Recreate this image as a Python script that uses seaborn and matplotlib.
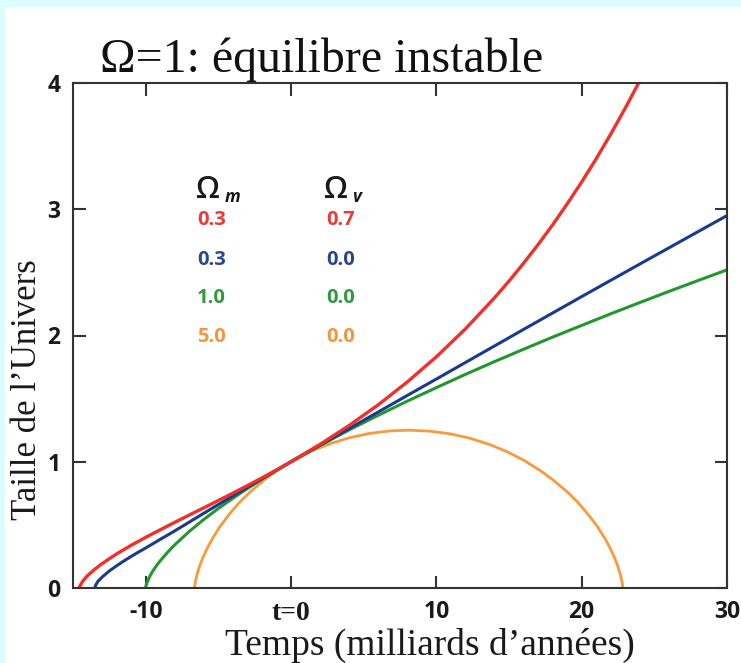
import matplotlib
matplotlib.use("Agg")
import matplotlib.pyplot as plt
from matplotlib.patches import Rectangle
import pandas as pd
import seaborn as sns

# Scale factor of the Universe versus time (billions of years, 0 = today)
red_t = [-14.56, -14.54, -14.5, -14.3, -14.0, -13.5, -13.0, -12.0, -11.0, -10.0,
         -9.0, -8.0, -7.0, -6.0, -5.0, -4.0, -3.0, -2.0, -1.0, 0.0,
         2.0, 4.0, 6.0, 8.0, 10.0, 12.0, 14.0, 15.0, 16.0, 17.0,
         18.0, 19.0, 20.0, 21.0, 22.0, 23.0, 24.0]
red_a = [0.0, 0.011, 0.022, 0.058, 0.098, 0.149, 0.193, 0.270, 0.338, 0.401,
         0.461, 0.520, 0.578, 0.635, 0.693, 0.751, 0.811, 0.872, 0.935, 1.0,
         1.138, 1.287, 1.451, 1.632, 1.831, 2.052, 2.298, 2.431, 2.572, 2.720,
         2.876, 3.042, 3.216, 3.400, 3.595, 3.801, 4.018]

blue_t = [-13.5, -13.45, -13.3, -13.0, -12.5, -12.0, -11.5, -11.0, -10.5, -10.0,
          -9.0, -8.0, -7.0, -6.0, -5.0, -4.0, -3.0, -2.0, -1.0, 0.0,
          2.0, 4.0, 6.0, 8.0, 10.0, 12.0, 14.0, 16.0, 18.0, 20.0,
          22.0, 24.0, 26.0, 28.0, 30.0]
blue_a = [0.0, 0.020, 0.050, 0.086, 0.135, 0.176, 0.214, 0.250, 0.284, 0.317,
          0.385, 0.452, 0.522, 0.592, 0.661, 0.729, 0.797, 0.865, 0.933, 1.0,
          1.132, 1.263, 1.394, 1.525, 1.655, 1.786, 1.917, 2.048, 2.178, 2.308,
          2.437, 2.566, 2.694, 2.822, 2.950]

green_t = [-10.0, -9.98, -9.9, -9.7, -9.5, -9.25, -9.0, -8.5, -8.0, -7.0,
           -6.0, -5.0, -4.0, -3.0, -2.0, -1.0, 0.0, 1.0, 2.0, 3.0,
           4.0, 6.0, 8.0, 10.0, 12.0, 14.0, 16.0, 18.0, 20.0, 22.0,
           24.0, 26.0, 28.0, 30.0]
green_a = [0.0, 0.016, 0.046, 0.097, 0.136, 0.178, 0.215, 0.282, 0.342, 0.448,
           0.543, 0.630, 0.711, 0.788, 0.862, 0.932, 1.0, 1.066, 1.129, 1.191,
           1.252, 1.368, 1.480, 1.587, 1.692, 1.793, 1.891, 1.987, 2.080, 2.172,
           2.261, 2.349, 2.435, 2.520]

orange_t = [-6.63, -6.627, -6.61, -6.56, -6.46, -6.31, -6.08, -5.77, -5.37, -4.88,
            -4.27, -3.57, -2.76, -1.84, -0.83, 0.0, 1.45, 2.71, 4.02, 5.38,
            6.77, 8.10, 9.58, 10.96, 12.32, 13.63, 14.88, 16.05, 17.14, 18.03,
            19.05, 19.76, 20.54, 21.07, 21.62, 21.96, 22.31, 22.50, 22.67, 22.75,
            22.81, 22.82]
orange_a = [0.0, 0.007, 0.028, 0.062, 0.109, 0.168, 0.237, 0.314, 0.399, 0.488,
            0.581, 0.675, 0.767, 0.856, 0.941, 1.0, 1.086, 1.144, 1.190, 1.224,
            1.244, 1.250, 1.242, 1.221, 1.186, 1.138, 1.079, 1.010, 0.931, 0.856,
            0.757, 0.675, 0.570, 0.488, 0.389, 0.314, 0.228, 0.168, 0.103, 0.062,
            0.025, 0.0]

omega_m = ["0.3", "0.3", "1.0", "5.0"]
omega_v = ["0.7", "0.0", "0.0", "0.0"]
models = ["rouge", "bleu", "vert", "orange"]
line_colors = {"rouge": "#f0302a", "bleu": "#1b3a8f", "vert": "#24962e", "orange": "#f99a3c"}
text_colors = ["#ea3a33", "#2a4690", "#33993c", "#f49540"]
line_widths = {"rouge": 2.4, "bleu": 2.2, "vert": 2.2, "orange": 2.0}

x_ticks = [-10, 0, 10, 20, 30]
x_tick_labels = ["-10", "t=0", "10", "20", "30"]
y_ticks = [0, 1, 2, 3, 4]

W, H = 741, 663


def fig_xy(px, py):
    return px / W, 1 - py / H


sns.set_theme(style="ticks")
plt.rcParams["font.family"] = ["Open Sans", "DejaVu Sans"]

fig = plt.figure(figsize=(W / 100, H / 100), dpi=100, facecolor="white")
fig.patches.append(Rectangle((0, 1 - 7 / H), 1, 7 / H, transform=fig.transFigure,
                             facecolor="#dcfbfd", edgecolor="none", zorder=0))
fig.patches.append(Rectangle((0, 0), 5 / W, 1, transform=fig.transFigure,
                             facecolor="#dcfbfd", edgecolor="none", zorder=0))

left, right, top, bottom = 73, 727, 83, 588
ax = fig.add_axes([left / W, 1 - bottom / H, (right - left) / W, (bottom - top) / H])
ax.set_facecolor("white")

curves = {"orange": (orange_t, orange_a), "vert": (green_t, green_a),
          "bleu": (blue_t, blue_a), "rouge": (red_t, red_a)}
for name, (t, a) in curves.items():
    df = pd.DataFrame({"t": t, "a": a})
    sns.lineplot(data=df, x="t", y="a", ax=ax, color=line_colors[name],
                 lw=line_widths[name], estimator=None, sort=False, legend=False)

ax.set_xlim(-15, 30)
ax.set_ylim(0, 4)
ax.set_xticks(x_ticks)
ax.set_xticklabels(x_tick_labels)
ax.set_yticks(y_ticks)
ax.set_yticklabels([str(v) for v in y_ticks])
ax.tick_params(direction="in", length=9, width=1.5, color="#333333",
               top=True, right=True, labelsize=16.5, pad=9)
for lab in ax.get_xticklabels() + ax.get_yticklabels():
    lab.set_fontweight("bold")
    lab.set_color("#1a1a1a")
t0 = ax.get_xticklabels()[1]
t0.set_fontfamily("Liberation Serif")
t0.set_fontsize(20)
for sp in ax.spines.values():
    sp.set_color("#333333")
    sp.set_linewidth(1.5)

ax.set_xlabel("Temps (milliards d\u2019ann\u00e9es)", fontsize=27,
              family="Liberation Serif", color="#1a1a1a", va="baseline")
ax.xaxis.set_label_coords(0.545, -(655 - bottom) / (bottom - top))
ax.set_ylabel("Taille de l\u2019Univers", fontsize=25, family="Liberation Serif",
              color="#1a1a1a", va="baseline")
ax.yaxis.set_label_coords((36 - left) / (right - left), (bottom - 390) / (bottom - top))

fig.text(*fig_xy(100, 72), "\u03a9=1: \u00e9quilibre instable", fontsize=34.5,
         family="Liberation Serif", color="#111111", va="baseline")

# Density parameters table
fig.text(*fig_xy(196, 198), "\u03a9", fontsize=22, fontweight="semibold",
         color="#1a1a1a", va="baseline")
fig.text(*fig_xy(225, 202), "m", fontsize=12.5, style="italic", fontweight="bold",
         color="#1a1a1a", va="baseline")
fig.text(*fig_xy(324, 198), "\u03a9", fontsize=22, fontweight="semibold",
         color="#1a1a1a", va="baseline")
fig.text(*fig_xy(352, 202), "v", fontsize=12.5, style="italic", fontweight="bold",
         color="#1a1a1a", va="baseline")
row_base = [225, 265, 303, 342]
for m, v, c, yb in zip(omega_m, omega_v, text_colors, row_base):
    fig.text(*fig_xy(197, yb), m, fontsize=14.5, fontweight="bold", color=c, va="baseline")
    fig.text(*fig_xy(326, yb), v, fontsize=14.5, fontweight="bold", color=c, va="baseline")

fig.savefig("out.png", dpi=100, facecolor=fig.get_facecolor())
